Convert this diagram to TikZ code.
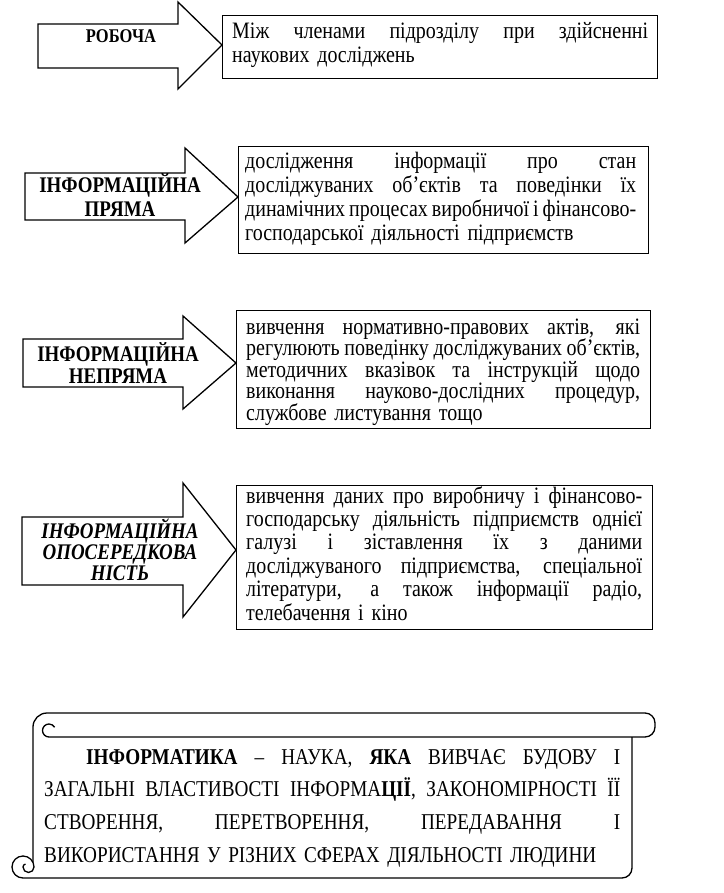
\documentclass[tikz,border=0pt]{standalone}
\usepackage{fontspec}
\setmainfont{Liberation Serif}[FakeStretch=0.85]
\newcommand\jline[2]{\makebox[#1pt][s]{\spaceskip=0pt\xspaceskip=0pt\relax #2}}
\newcommand\txtsize[2]{\fontsize{#1}{#2}\selectfont\lineskiplimit=-100pt\relax}
\begin{document}
\begin{tikzpicture}[x=1pt,y=-1pt,
  shapeline/.style={draw=black, line width=1.3pt, line join=miter},
  boxnode/.style={draw=black, line width=1.3pt, anchor=north west, inner sep=0pt},
  bodytxt/.style={anchor=base west, inner sep=0pt},
  lbltxt/.style={font=\bfseries\fontsize{22.3}{25}\selectfont, anchor=base, inner sep=0pt},
  lblit/.style={lbltxt, font=\bfseries\itshape\fontsize{22.3}{25}\selectfont}]
\useasboundingbox (0,0) rectangle (723,893);

% ---------- boxes ----------
\node[boxnode, minimum width=435pt, minimum height=63pt] (b1) at (222,15) {};
\node[boxnode, minimum width=410pt, minimum height=107pt] (b2) at (238,146) {};
\node[boxnode, minimum width=414pt, minimum height=118pt] (b3) at (236,310) {};
\node[boxnode, minimum width=416pt, minimum height=144pt] (b4) at (236,485) {};

% ---------- arrows ----------
\draw[shapeline] (38,24) -- (178,24) -- (178,2) -- (222,45) -- (178,89) -- (178,68) -- (38,68) -- cycle;
\draw[shapeline] (25,173) -- (185,173) -- (185,148) -- (238,197) -- (185,243) -- (185,220) -- (25,220) -- cycle;
\draw[shapeline] (23,339) -- (183,339) -- (183,316) -- (236,363) -- (183,409) -- (183,387) -- (23,387) -- cycle;
\draw[shapeline] (22,517) -- (183,517) -- (183,483) -- (236,550) -- (183,617) -- (183,585) -- (22,585) -- cycle;

% ---------- arrow labels ----------
\node[lbltxt, font=\bfseries\fontsize{19.4}{22}\selectfont] (a1) at (121,42.5) {РОБОЧА};
\node[lbltxt] (a2a) at (120,193) {ІНФОРМАЦІЙНА};
\node[lbltxt] (a2b) at (120,217) {ПРЯМА};
\node[lbltxt] (a3a) at (118,361) {ІНФОРМАЦІЙНА};
\node[lbltxt] (a3b) at (118,383) {НЕПРЯМА};
\node[lblit] (a4a) at (120,538) {ІНФОРМАЦІЙНА};
\node[lblit] (a4b) at (120,559) {ОПОСЕРЕДКОВА};
\node[lblit] (a4c) at (120,580) {НІСТЬ};

% ---------- box texts ----------
\node[bodytxt, text width=416pt, font=\txtsize{23.5}{24}] (t1) at (232,39)
  {\jline{416}{Між членами підрозділу при здійсненні}\\
   наукових досліджень};

\node[bodytxt, text width=391pt, font=\txtsize{23.5}{24}] (t2) at (245,169)
  {\jline{391}{дослідження інформації про стан}\\
   \jline{391}{досліджуваних об’єктів та поведінки їх}\\
   \jline{391}{динамічних процесах виробничої і фінансово-}\\
   господарської діяльності підприємств};

\node[bodytxt, text width=394pt, font=\txtsize{23.5}{21.5}] (t3) at (246,334)
  {\jline{394}{вивчення нормативно-правових актів, які}\\
   \jline{394}{регулюють поведінку досліджуваних об’єктів,}\\
   \jline{394}{методичних вказівок та інструкцій щодо}\\
   \jline{394}{виконання науково-дослідних процедур,}\\
   службове листування тощо};

\node[bodytxt, text width=396pt, font=\txtsize{23.5}{23.4}] (t4) at (246,503)
  {\jline{396}{вивчення даних про виробничу і фінансово-}\\
   \jline{396}{господарську діяльність підприємств однієї}\\
   \jline{396}{галузі і зіставлення їх з даними}\\
   \jline{396}{досліджуваного підприємства, спеціальної}\\
   \jline{396}{літератури, а також інформації радіо,}\\
   телебачення і кіно};

% ---------- scroll ----------
\draw[shapeline, line join=round]
  (33,862) -- (33,727) arc[start angle=180,end angle=270,radius=14]
  -- (645,713) arc[start angle=270,end angle=360,radius=10]
  -- (655,727) arc[start angle=0,end angle=90,radius=10]
  -- (49,737) arc[start angle=90,end angle=330,radius=6.5];
\draw[shapeline, line join=round]
  (632,737) -- (632,868) arc[start angle=0,end angle=90,radius=10]
  -- (23,878) arc[start angle=90,end angle=360,radius=11]
  arc[start angle=0,end angle=180,radius=5.5]
  arc[start angle=180,end angle=260,radius=3];

\node[bodytxt, text width=576pt, font=\txtsize{22.6}{32.7}] (s) at (44,764)
  {\hspace*{42pt}\jline{534}{\textbf{ІНФОРМАТИКА} – НАУКА, \textbf{ЯКА} ВИВЧАЄ БУДОВУ І}\\
   \jline{576}{ЗАГАЛЬНІ ВЛАСТИВОСТІ ІНФОРМА\textbf{ЦІЇ}, ЗАКОНОМІРНОСТІ ЇЇ}\\
   \jline{576}{СТВОРЕННЯ, ПЕРЕТВОРЕННЯ, ПЕРЕДАВАННЯ І}\\
   ВИКОРИСТАННЯ У РІЗНИХ СФЕРАХ ДІЯЛЬНОСТІ ЛЮДИНИ};
\end{tikzpicture}
\end{document}
